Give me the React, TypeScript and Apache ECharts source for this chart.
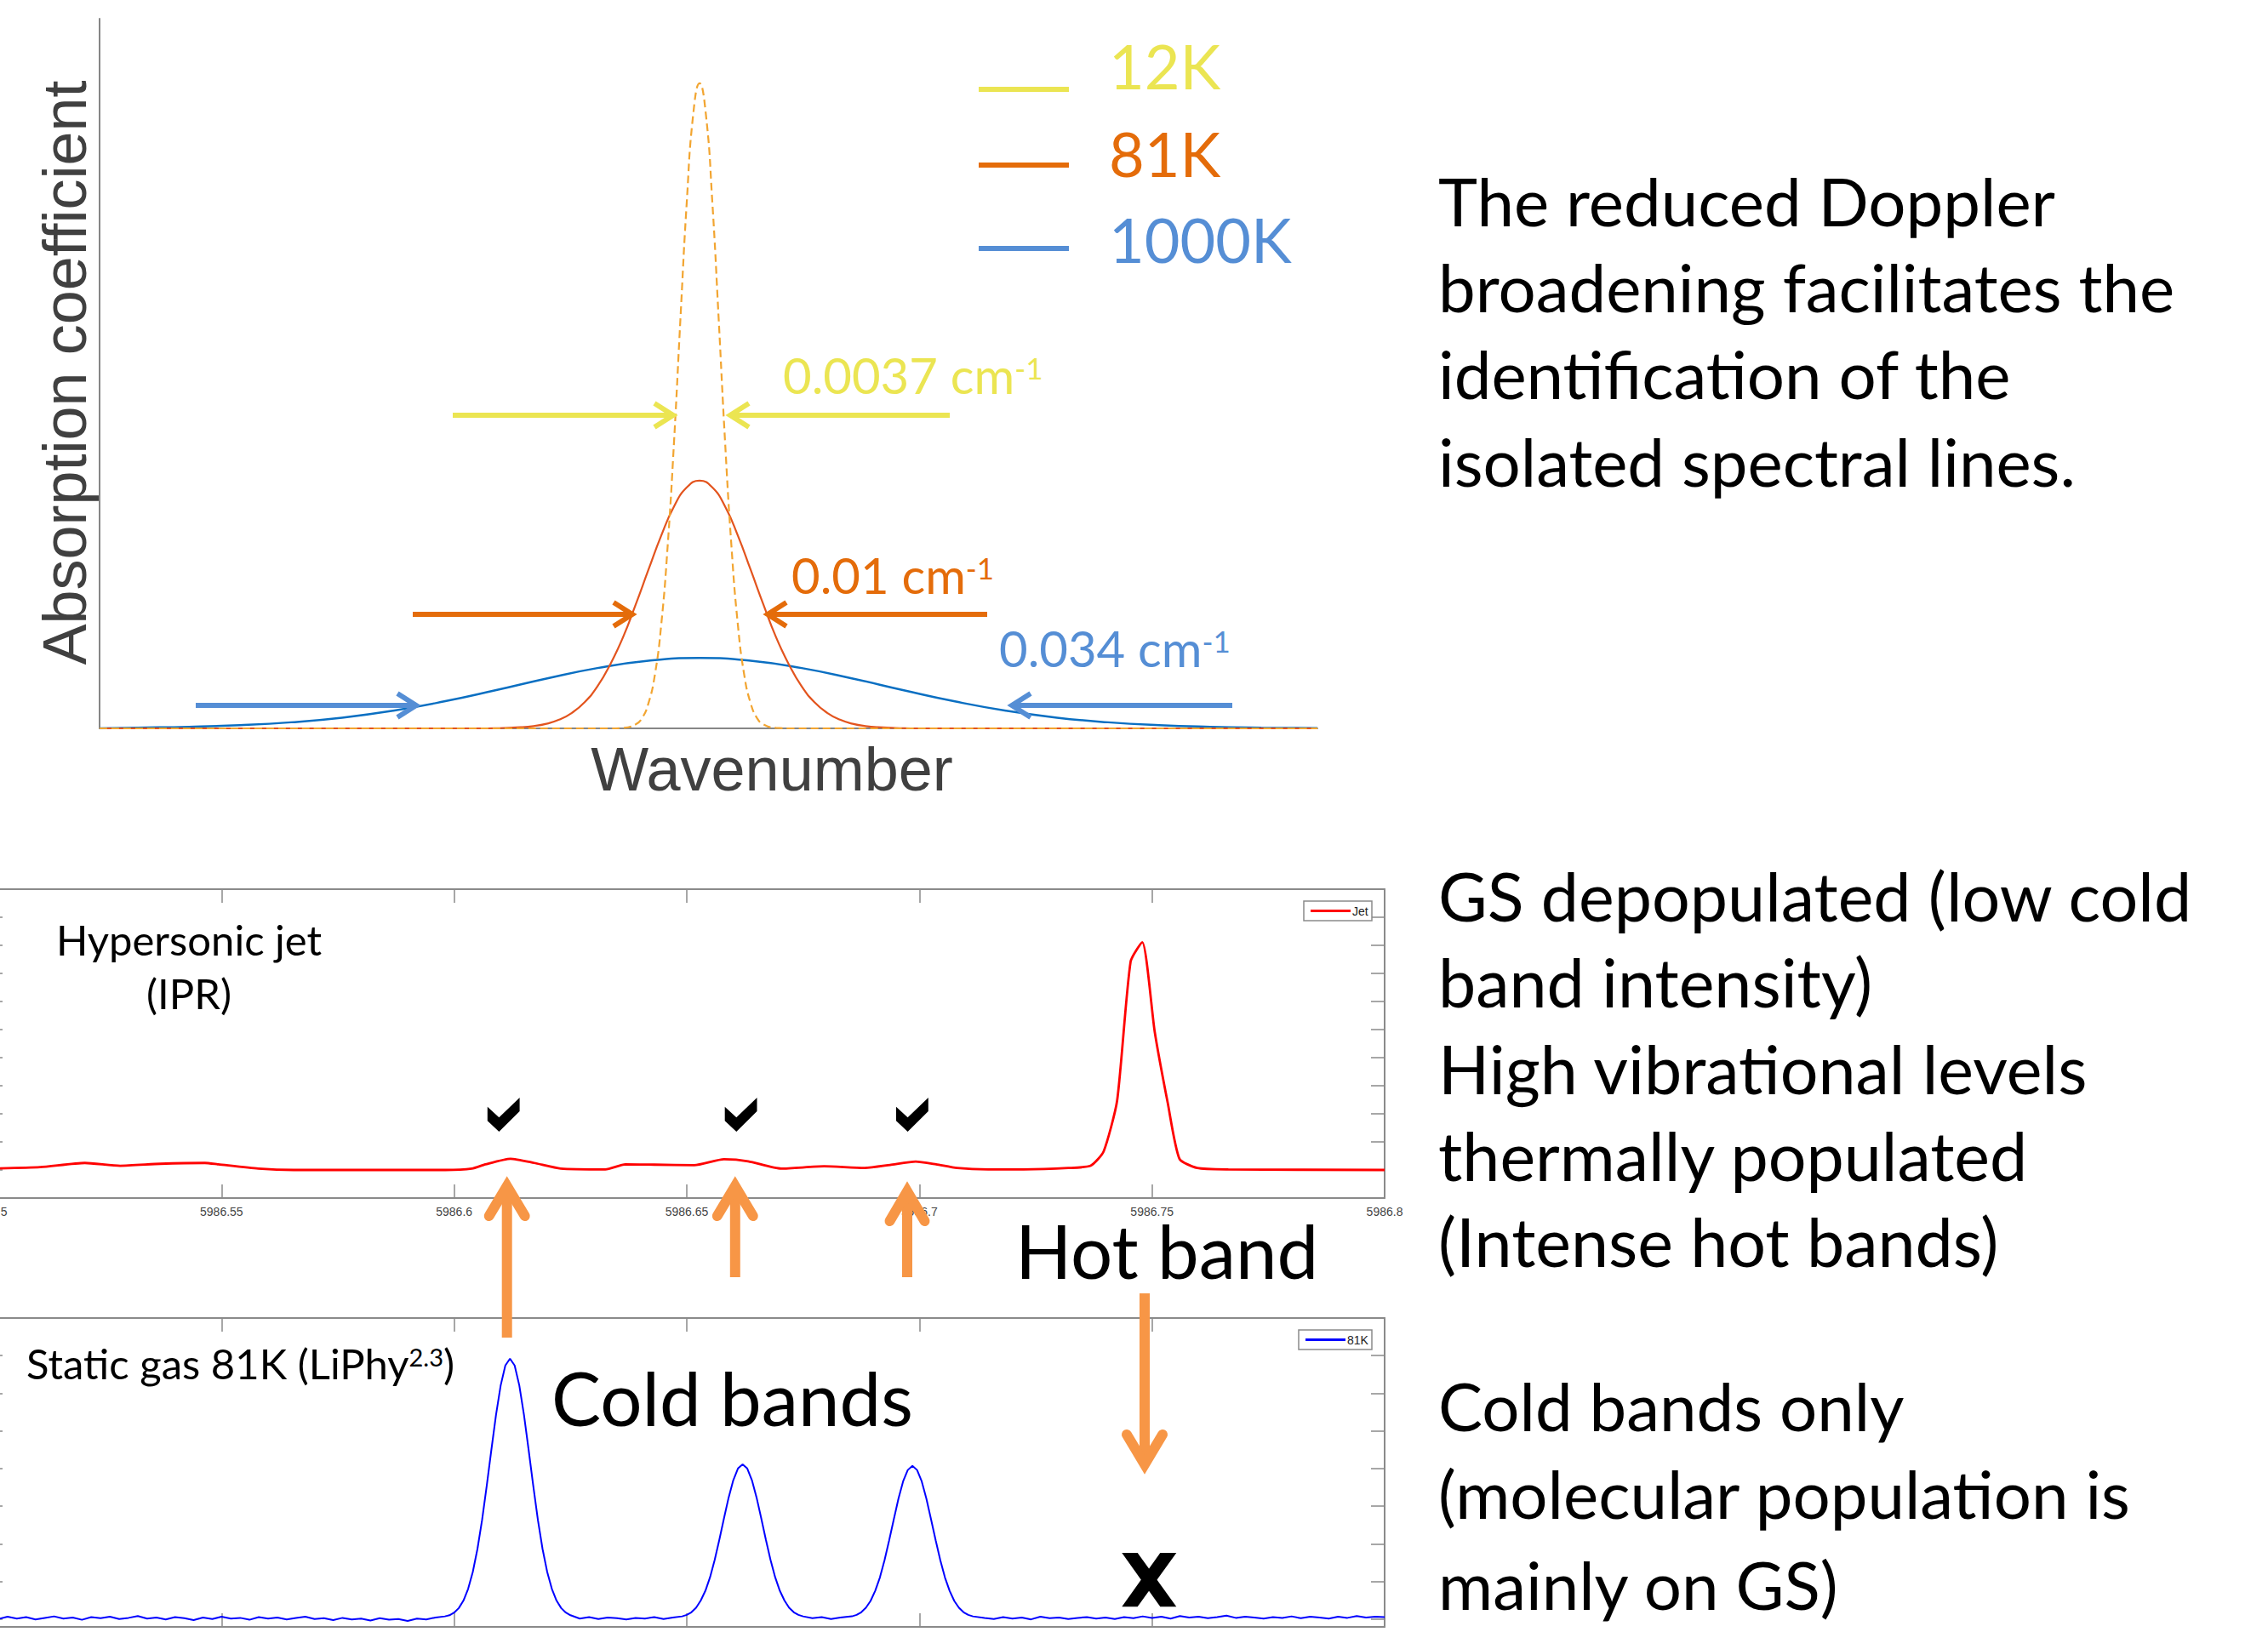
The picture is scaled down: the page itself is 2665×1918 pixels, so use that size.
import React, { useEffect, useRef } from "react";
import * as echarts from "echarts";

// ---------- Top schematic: Doppler profiles (x = wavenumber offset, cm-1; y = relative absorption)
const wn12K = [-0.047, -0.007, -0.006, -0.005, -0.0045, -0.004, -0.0035, -0.003, -0.0025, -0.002, -0.0015, -0.001, -0.0005, 0, 0.0005, 0.001, 0.0015, 0.002, 0.0025, 0.003, 0.0035, 0.004, 0.0045, 0.005, 0.006, 0.007, 0.0484];
const abs12K = [0, 0, 0.07, 0.63, 1.6, 3.9, 8.3, 16.1, 28.2, 44.4, 63.4, 81.6, 95.1, 100, 95.1, 81.6, 63.4, 44.4, 28.2, 16.1, 8.3, 3.9, 1.6, 0.63, 0.07, 0, 0];

const wn81K = [-0.047, -0.017, -0.016, -0.014, -0.013, -0.012, -0.011, -0.01, -0.009, -0.008, -0.007, -0.006, -0.005, -0.004, -0.003, -0.002, -0.001, 0, 0.001, 0.002, 0.003, 0.004, 0.005, 0.006, 0.007, 0.008, 0.009, 0.01, 0.011, 0.012, 0.013, 0.014, 0.016, 0.017, 0.0484];
const abs81K = [0, 0, 0.03, 0.17, 0.35, 0.71, 1.34, 2.4, 4.06, 6.5, 9.9, 14.1, 19.2, 24.6, 29.9, 34.4, 37.35, 38.4, 37.35, 34.4, 29.9, 24.6, 19.2, 14.1, 9.9, 6.5, 4.06, 2.4, 1.34, 0.71, 0.35, 0.17, 0.03, 0, 0];

const wn1000K = [-0.047, -0.044, -0.04, -0.036, -0.032, -0.028, -0.024, -0.02, -0.016, -0.012, -0.008, -0.004, 0, 0.004, 0.008, 0.012, 0.016, 0.02, 0.024, 0.028, 0.032, 0.036, 0.04, 0.044, 0.0484];
const abs1000K = [0.01, 0.11, 0.24, 0.49, 0.94, 1.66, 2.74, 4.18, 5.9, 7.72, 9.35, 10.49, 10.9, 10.49, 9.35, 7.72, 5.9, 4.18, 2.74, 1.66, 0.94, 0.49, 0.24, 0.11, 0.03];

// ---------- Middle panel: hypersonic jet spectrum (IPR)
const jetWn = [5986.5, 5986.511, 5986.5206, 5986.5282, 5986.5368, 5986.5464, 5986.5493, 5986.5579, 5986.5655, 5986.5981, 5986.6038, 5986.6067, 5986.6121, 5986.6172, 5986.6229, 5986.6325, 5986.6368, 5986.643, 5986.6516, 5986.658, 5986.6632, 5986.6703, 5986.6795, 5986.6881, 5986.6937, 5986.6992, 5986.7036, 5986.7081, 5986.7148, 5986.7224, 5986.732, 5986.7368, 5986.7396, 5986.7425, 5986.7454, 5986.7479, 5986.7506, 5986.7534, 5986.7559, 5986.7597, 5986.7664, 5986.8];
const jetAbs = [1.05, 1.1, 1.25, 1.15, 1.22, 1.25, 1.2, 1.05, 1.0, 1.0, 1.05, 1.2, 1.4, 1.25, 1.05, 1.02, 1.2, 1.19, 1.17, 1.38, 1.31, 1.05, 1.13, 1.07, 1.18, 1.3, 1.2, 1.07, 1.02, 1.02, 1.07, 1.15, 1.66, 3.47, 8.42, 9.11, 5.9, 3.37, 1.4, 1.07, 1.02, 1.0];

// ---------- Bottom panel: static gas 81 K spectrum (LiPhy)
const staticWn = [
  5986.5, 5986.502, 5986.504, 5986.506, 5986.508, 5986.51, 5986.512, 5986.514, 5986.516, 5986.518,
  5986.52, 5986.522, 5986.524, 5986.526, 5986.528, 5986.53, 5986.532, 5986.534, 5986.536, 5986.538,
  5986.54, 5986.542, 5986.544, 5986.546, 5986.548, 5986.55, 5986.552, 5986.554, 5986.556, 5986.558,
  5986.56, 5986.562, 5986.564, 5986.566, 5986.568, 5986.57, 5986.572, 5986.574, 5986.576, 5986.578,
  5986.58, 5986.582, 5986.584, 5986.586, 5986.588, 5986.59, 5986.592, 5986.594, 5986.596, 5986.598,
  5986.599, 5986.6, 5986.601, 5986.602, 5986.603, 5986.604, 5986.605, 5986.606, 5986.607, 5986.608,
  5986.609, 5986.61, 5986.611, 5986.612, 5986.613, 5986.614, 5986.615, 5986.616, 5986.617, 5986.618,
  5986.619, 5986.62, 5986.621, 5986.622, 5986.623, 5986.624, 5986.625,
  5986.627, 5986.629, 5986.631, 5986.633, 5986.635, 5986.637, 5986.639, 5986.641, 5986.643, 5986.645, 5986.647,
  5986.649, 5986.65, 5986.651, 5986.652, 5986.653, 5986.654, 5986.655, 5986.656, 5986.657, 5986.658,
  5986.659, 5986.66, 5986.661, 5986.662, 5986.663, 5986.664, 5986.665, 5986.666, 5986.667, 5986.668,
  5986.669, 5986.67, 5986.671, 5986.672, 5986.673, 5986.674, 5986.675,
  5986.677, 5986.679, 5986.681, 5986.683,
  5986.6855, 5986.6865, 5986.6875, 5986.6885, 5986.6895, 5986.6905, 5986.6915, 5986.6925, 5986.6935, 5986.6945,
  5986.6955, 5986.6965, 5986.6975, 5986.6985, 5986.6995, 5986.7005, 5986.7015, 5986.7025, 5986.7035, 5986.7045,
  5986.7055, 5986.7065, 5986.7075, 5986.7085, 5986.7095, 5986.7105, 5986.7115,
  5986.714, 5986.716, 5986.718, 5986.72, 5986.722, 5986.724, 5986.726, 5986.728, 5986.73, 5986.732,
  5986.734, 5986.736, 5986.738, 5986.74, 5986.742, 5986.744, 5986.746, 5986.748, 5986.75, 5986.752,
  5986.754, 5986.756, 5986.758, 5986.76, 5986.762, 5986.764, 5986.766, 5986.768, 5986.77, 5986.772,
  5986.774, 5986.776, 5986.778, 5986.78, 5986.782, 5986.784, 5986.786, 5986.788, 5986.79, 5986.792,
  5986.794, 5986.796, 5986.798, 5986.8,
];
const staticAbs = [
  0.25, 0.21, 0.27, 0.22, 0.26, 0.2, 0.24, 0.28, 0.22, 0.25,
  0.19, 0.26, 0.23, 0.27, 0.21, 0.24, 0.29, 0.22, 0.25, 0.2,
  0.26, 0.23, 0.18, 0.25, 0.21, 0.27, 0.22, 0.24, 0.19, 0.26,
  0.22, 0.25, 0.2, 0.24, 0.27, 0.21, 0.23, 0.18, 0.24, 0.2,
  0.22, 0.17, 0.23, 0.19, 0.21, 0.16, 0.22, 0.2, 0.25, 0.28,
  0.31, 0.38, 0.5, 0.7, 1.01, 1.46, 2.07, 2.84, 3.75, 4.71,
  5.64, 6.42, 6.95, 7.13, 6.95, 6.42, 5.64, 4.71, 3.75, 2.84,
  2.07, 1.46, 1.01, 0.7, 0.5, 0.38, 0.31,
  0.22, 0.26, 0.21, 0.25, 0.23, 0.2, 0.24, 0.22, 0.26, 0.21, 0.25,
  0.28, 0.32, 0.39, 0.51, 0.7, 0.96, 1.32, 1.78, 2.32, 2.89,
  3.44, 3.9, 4.21, 4.32, 4.21, 3.9, 3.44, 2.89, 2.32, 1.78,
  1.32, 0.96, 0.7, 0.51, 0.39, 0.32, 0.28,
  0.23, 0.26, 0.21, 0.25,
  0.28, 0.32, 0.39, 0.51, 0.69, 0.96, 1.31, 1.77, 2.3, 2.86,
  3.41, 3.87, 4.17, 4.28, 4.17, 3.87, 3.41, 2.86, 2.3, 1.77,
  1.31, 0.96, 0.69, 0.51, 0.39, 0.32, 0.28,
  0.24, 0.21, 0.26, 0.22, 0.25, 0.2, 0.27, 0.23, 0.25, 0.21,
  0.24, 0.26, 0.22, 0.25, 0.21, 0.26, 0.23, 0.28, 0.24, 0.27,
  0.22, 0.29, 0.25, 0.27, 0.23, 0.26, 0.3, 0.24, 0.27, 0.25,
  0.22, 0.26, 0.24, 0.28, 0.23, 0.27, 0.25, 0.22, 0.27, 0.24,
  0.29, 0.25, 0.27, 0.26,
];

const topLegendLabels = ["12K", "81K", "1000K"];
const widthLabels = ["0.0037 cm", "0.01 cm", "0.034 cm"];
const rightTextTop = ["The reduced Doppler", "broadening facilitates the", "identification of the", "isolated spectral lines."];
const rightTextMid = ["GS depopulated (low cold", "band intensity)", "High vibrational levels", "thermally populated", "(Intense hot bands)"];
const rightTextBot = ["Cold bands only", "(molecular population is", "mainly on GS)"];

const CAL = "Lato, 'Open Sans', sans-serif";
const ARI = "'Liberation Sans', Arial, sans-serif";
const YEL = "#EBE552";
const ORA = "#E46C0A";
const BLU = "#558ED5";
const ARROW = "#F79646";
const BOX = "#8a8a8a";

const zip = (xs: number[], ys: number[]) => xs.map((x, i) => [x, ys[i]]);

function txt(x: number, y: number, text: string, size: number, fill: string, align = "left", family = CAL, lh?: number) {
  return {
    type: "text", x, y, z: 100,
    style: { text, fill, fontSize: size, fontFamily: family, align, verticalAlign: "middle", lineHeight: lh ?? Math.round(size * 0.85) },
  };
}

function supTxt(x: number, y: number, main: string, sup: string, size: number, fill: string, tail = "") {
  const s = Math.round(size * 0.6);
  return {
    type: "text", x, y, z: 100,
    style: {
      text: `{a|${main}}{s|${sup}}` + (tail ? `{a|${tail}}` : ""), align: "left", verticalAlign: "middle", fill,
      rich: {
        a: { fontSize: size, fontFamily: CAL, fill, lineHeight: Math.round(size * 0.9) },
        s: { fontSize: s, fontFamily: CAL, fill, verticalAlign: "top", lineHeight: s },
      },
    },
  };
}

function hArrow(x0: number, xTip: number, y: number, color: string) {
  const d = xTip > x0 ? 1 : -1;
  const v = xTip - d * 5;
  return [
    { type: "line", z: 100, shape: { x1: x0, y1: y, x2: v, y2: y }, style: { stroke: color, lineWidth: 6 } },
    { type: "polyline", z: 100, shape: { points: [[v - d * 22, y - 14], [v, y], [v - d * 22, y + 14]] }, style: { stroke: color, lineWidth: 6, fill: null, lineJoin: "miter" } },
  ];
}

function vArrow(x: number, yTail: number, yTip: number, wdx: number, wdy: number) {
  const d = yTip < yTail ? -1 : 1;
  const v = yTip - d * 12;
  return [
    { type: "line", z: 100, shape: { x1: x, y1: yTail, x2: x, y2: v - d * 2 }, style: { stroke: ARROW, lineWidth: 12 } },
    { type: "polyline", z: 100, shape: { points: [[x - wdx, v - d * wdy], [x, v], [x + wdx, v - d * wdy]] }, style: { stroke: ARROW, lineWidth: 12, fill: null, lineJoin: "miter", lineCap: "round" } },
  ];
}

function check(x: number, y: number) {
  return {
    type: "polygon", z: 100,
    shape: { points: [[x, y + 10.7], [x + 13.6, y + 23.3], [x + 37.8, y], [x + 37.8, y + 16], [x + 13.6, y + 40], [x, y + 27.3]] },
    style: { fill: "#000" },
  };
}

function legendBox(x: number, y: number, w: number, color: string, label: string) {
  return [
    { type: "rect", z: 100, shape: { x, y, width: w, height: 23 }, style: { fill: "#fff", stroke: BOX, lineWidth: 1.5 } },
    { type: "line", z: 101, shape: { x1: x + 8, y1: y + 11.5, x2: x + 55, y2: y + 11.5 }, style: { stroke: color, lineWidth: 3 } },
    { type: "text", z: 101, x: x + 57, y: y + 12, style: { text: label, fontSize: 14, fontFamily: ARI, fill: "#222", verticalAlign: "middle" } },
  ];
}

const jetAxisCommon = {
  type: "value", min: 5986.5, max: 5986.8, interval: 0.05,
  axisLine: { show: true, onZero: false, lineStyle: { color: BOX, width: 2 } },
  axisTick: { show: true, inside: true, length: 16, lineStyle: { color: BOX, width: 1.5 } },
  splitLine: { show: false },
};
const boxY = (extra: any) => ({
  type: "value", interval: 1,
  axisLine: { show: true, onZero: false, lineStyle: { color: BOX, width: 2 } },
  axisTick: { show: true, inside: true, length: 16, lineStyle: { color: BOX, width: 1.5 } },
  axisLabel: { show: false }, splitLine: { show: false },
  ...extra,
});

export default function App() {
  const ref = useRef<HTMLDivElement>(null);
  useEffect(() => {
    if (!ref.current) return;
    const chart = echarts.init(ref.current, null, { renderer: "svg", width: 2665, height: 1918 });

    const graphics: any[] = [];
    // Top schematic texts
    graphics.push({
      type: "text", x: 76, y: 438, rotation: Math.PI / 2, z: 100,
      style: { text: "Absorption coefficient", fontSize: 72, fontFamily: ARI, fill: "#404040", align: "center", verticalAlign: "middle" },
    });
    graphics.push(txt(907, 904, "Wavenumber", 72, "#404040", "center", ARI));
    const legY = [105, 194, 292];
    const legTextY = [77, 180, 281];
    const legCol = [YEL, ORA, BLU];
    topLegendLabels.forEach((l, i) => {
      graphics.push({ type: "line", z: 100, shape: { x1: 1150, y1: legY[i], x2: 1256, y2: legY[i] }, style: { stroke: legCol[i], lineWidth: 6 } });
      graphics.push(txt(1303, legTextY[i], l, 72, legCol[i]));
    });
    graphics.push(supTxt(920, 440, widthLabels[0], "-1", 58, YEL));
    graphics.push(supTxt(930, 675, widthLabels[1], "-1", 58, ORA));
    graphics.push(supTxt(1174, 761, widthLabels[2], "-1", 58, BLU));
    graphics.push(...hArrow(532, 796, 488, YEL), ...hArrow(1116, 853, 488, YEL));
    graphics.push(...hArrow(485, 748, 722, ORA), ...hArrow(1160, 897, 722, ORA));
    graphics.push(...hArrow(230, 494, 829, BLU), ...hArrow(1448, 1184, 829, BLU));

    // Right-hand texts
    [236, 337, 439, 542].forEach((y, i) => graphics.push(txt(1690, y, rightTextTop[i], 78, "#000")));
    [1052, 1153, 1255, 1357, 1458].forEach((y, i) => graphics.push(txt(1690, y, rightTextMid[i], 79, "#000")));
    [1652, 1755, 1862].forEach((y, i) => graphics.push(txt(1690, y, rightTextBot[i], 78, "#000")));

    // Spectra panel annotations
    graphics.push(txt(222, 1104, "Hypersonic jet", 49, "#000", "center"));
    graphics.push(txt(222, 1167, "(IPR)", 49, "#000", "center"));
    graphics.push(supTxt(31, 1602, "Static gas 81K (LiPhy", "2.3", 49, "#000", ")"));
    graphics.push(txt(648, 1642, "Cold bands", 87, "#000", "left", CAL, 60));
    graphics.push(txt(1193, 1469, "Hot band", 87, "#000", "left", CAL, 58));
    graphics.push(check(572.8, 1290), check(851.7, 1290), check(1053, 1290));
    graphics.push(...vArrow(595.7, 1572, 1382, 21, 35));
    graphics.push(...vArrow(863.8, 1501, 1382, 21, 35));
    graphics.push(...vArrow(1066, 1501, 1388, 20.5, 35));
    graphics.push(...vArrow(1345, 1520, 1733, 21, 35));
    graphics.push({ type: "polygon", z: 100, shape: { points: [[1318.3, 1825], [1336.7, 1825], [1382.3, 1888.3], [1363.3, 1888.3]] }, style: { fill: "#000" } });
    graphics.push({ type: "polygon", z: 100, shape: { points: [[1363.3, 1825], [1382.3, 1825], [1336.7, 1888.3], [1318.3, 1888.3]] }, style: { fill: "#000" } });
    graphics.push(...legendBox(1532, 1059, 80, "#FF0000", "Jet"));
    graphics.push(...legendBox(1526, 1563, 86, "#0000FF", "81K"));

    const option: any = {
      animation: false,
      backgroundColor: "#ffffff",
      textStyle: { fontFamily: ARI },
      grid: [
        { left: 117, top: 22, width: 1431, height: 834, outerBoundsMode: "none", containLabel: false },
        { left: -13, top: 1045, width: 1640, height: 363, outerBoundsMode: "none", containLabel: false },
        { left: -13, top: 1549, width: 1640, height: 363, outerBoundsMode: "none", containLabel: false },
      ],
      xAxis: [
        {
          gridIndex: 0, type: "value", min: -0.047, max: 0.0484,
          axisLine: { show: true, onZero: false, lineStyle: { color: "#868686", width: 2 } },
          axisTick: { show: false }, axisLabel: { show: false }, splitLine: { show: false },
        },
        {
          ...jetAxisCommon, gridIndex: 1, position: "bottom",
          axisLabel: {
            show: true, fontSize: 14, color: "#444", fontFamily: ARI, margin: 9, showMinLabel: true, showMaxLabel: true,
            formatter: (v: number) => v.toFixed(2).replace(/0$/, ""),
          },
        },
        { ...jetAxisCommon, gridIndex: 1, position: "top", axisLabel: { show: false } },
        { ...jetAxisCommon, gridIndex: 2, position: "bottom", axisLabel: { show: false } },
        { ...jetAxisCommon, gridIndex: 2, position: "top", axisLabel: { show: false } },
      ],
      yAxis: [
        {
          gridIndex: 0, type: "value", min: 0, max: 110,
          axisLine: { show: true, onZero: false, lineStyle: { color: "#868686", width: 2 } },
          axisTick: { show: false }, axisLabel: { show: false }, splitLine: { show: false },
        },
        boxY({ gridIndex: 1, position: "left", min: 0, max: 11 }),
        boxY({ gridIndex: 1, position: "right", min: 0, max: 11 }),
        boxY({ gridIndex: 2, position: "left", min: 0, max: 8.21, inverse: true }),
        boxY({ gridIndex: 2, position: "right", min: 0, max: 8.21, inverse: true }),
        { gridIndex: 2, type: "value", show: false, min: 0, max: 8.21 },
      ],
      series: [
        {
          name: "1000K", type: "line", xAxisIndex: 0, yAxisIndex: 0, data: zip(wn1000K, abs1000K),
          smooth: 0.5, symbol: "none", z: 2,
          lineStyle: { color: "#0A6FC2", width: 2.5 },
        },
        {
          name: "81K", type: "line", xAxisIndex: 0, yAxisIndex: 0, data: zip(wn81K, abs81K),
          smooth: 0.5, symbol: "none", z: 3,
          lineStyle: { color: "#E3541E", width: 2.2 },
        },
        {
          name: "12K", type: "line", xAxisIndex: 0, yAxisIndex: 0, data: zip(wn12K, abs12K),
          smooth: 0.5, symbol: "none", z: 4,
          lineStyle: { color: "#F2A531", width: 2.2, type: [9, 5] },
        },
        {
          name: "Jet", type: "line", xAxisIndex: 1, yAxisIndex: 1, data: zip(jetWn, jetAbs),
          smooth: 0.2, symbol: "none", clip: true,
          lineStyle: { color: "#FF0000", width: 2.8 },
        },
        {
          name: "81K static", type: "line", xAxisIndex: 3, yAxisIndex: 5, data: zip(staticWn, staticAbs),
          symbol: "none", clip: true,
          lineStyle: { color: "#0000FF", width: 2 },
        },
      ],
      graphic: { elements: graphics },
    };
    chart.setOption(option);
    return () => chart.dispose();
  }, []);

  return (
    <div
      ref={ref}
      style={{ position: "absolute", left: 0, top: 0, width: 2665, height: 1918, background: "#fff" }}
    />
  );
}
